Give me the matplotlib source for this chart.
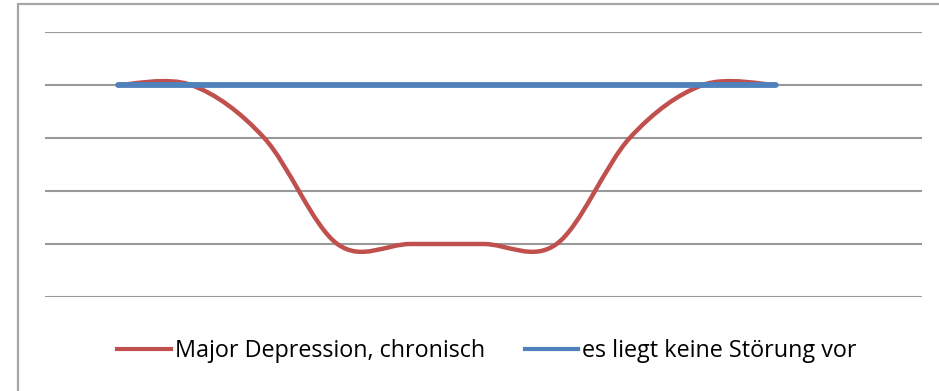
import matplotlib.pyplot as plt
from matplotlib.path import Path
from matplotlib.patches import PathPatch, Rectangle
from matplotlib.lines import Line2D
import numpy as np

# one value per measurement point
points = list(range(10))
major_depression = [4, 4, 3, 1, 1, 1, 1, 3, 4, 4]
keine_stoerung = [4, 4, 4, 4, 4, 4, 4, 4, 4, 4]
series_labels = ["Major Depression, chronisch", "es liegt keine Störung vor"]
red = "#C0504D"
blue = "#4F81BD"


def smooth_path(x, y):
    # spreadsheet-style smoothed line: cubic bezier with 1/6 tangent
    x = np.asarray(x, float)
    y = np.asarray(y, float)
    n = len(x)
    verts = [(x[0], y[0])]
    codes = [Path.MOVETO]
    for i in range(n - 1):
        p0 = max(i - 1, 0)
        p3 = min(i + 2, n - 1)
        c1 = (x[i] + (x[i + 1] - x[p0]) / 6, y[i] + (y[i + 1] - y[p0]) / 6)
        c2 = (x[i + 1] - (x[p3] - x[i]) / 6, y[i + 1] - (y[p3] - y[i]) / 6)
        verts += [c1, c2, (x[i + 1], y[i + 1])]
        codes += [Path.CURVE4] * 3
    return Path(verts, codes)


fig = plt.figure(figsize=(9.39, 3.91), dpi=100)
fig.patches.append(Rectangle((17.5 / 939, -0.1), 1.2, 1.1 - 3.5 / 391,
                             transform=fig.transFigure, fill=False,
                             edgecolor="#A6A6A6", linewidth=1.6))

ax = fig.add_axes([45 / 939, 1 - 297 / 391, 877 / 939, 265 / 391])
ax.set_xlim(-1, 11)
ax.set_ylim(0, 5)
for v in range(6):
    ax.axhline(v, color="#999999", linewidth=1.5, zorder=1)
for s in ax.spines.values():
    s.set_visible(False)
ax.set_xticks([])
ax.set_yticks([])

ax.add_patch(PathPatch(smooth_path(points, major_depression), fill=False,
                       edgecolor=red, linewidth=3.2, capstyle="round", zorder=3))
ax.add_patch(PathPatch(smooth_path(points, keine_stoerung), fill=False,
                       edgecolor=blue, linewidth=4.2, capstyle="round", zorder=4))

handles = [Line2D([], [], color=red, linewidth=3.0),
           Line2D([], [], color=blue, linewidth=3.0)]
fig.legend(handles, series_labels, loc="center", bbox_to_anchor=(487 / 939, 1 - 351 / 391),
           ncol=2, frameon=False, handlelength=2.3, handletextpad=0.17,
           columnspacing=1.7, prop={"family": ["Open Sans", "DejaVu Sans"], "size": 16.8})

fig.savefig("out.png", dpi=100)
